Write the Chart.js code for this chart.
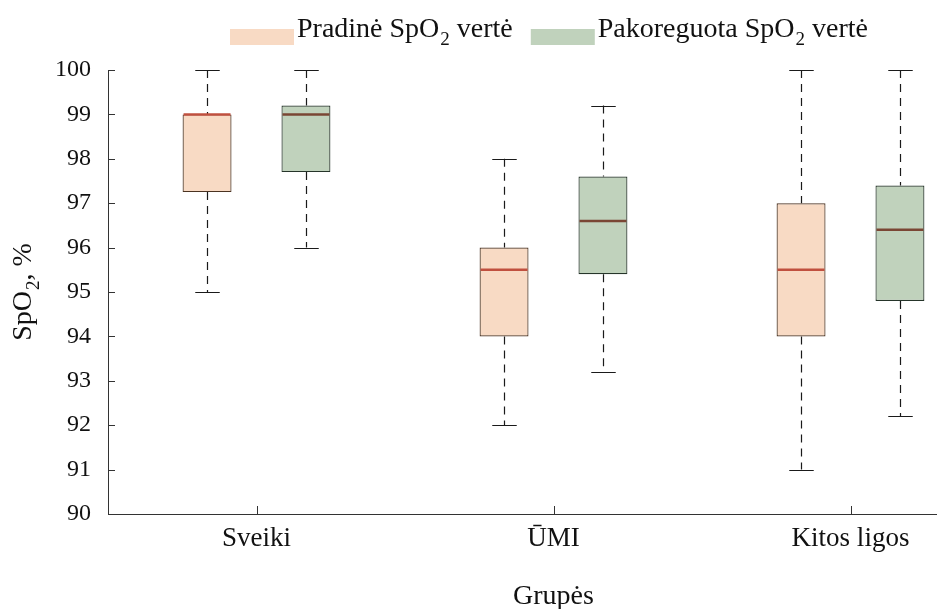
<!DOCTYPE html>
<html>
<head>
<meta charset="utf-8">
<script src="https://cdn.jsdelivr.net/npm/chart.js@4/dist/chart.umd.min.js"></script>
<style>
  html, body { margin: 0; padding: 0; background: #fff; overflow: hidden; }
  #wrap { position: relative; width: 1000px; height: 609px; }
</style>
</head>
<body>
<div id="wrap"><canvas id="c"></canvas></div>
<script>
// Groups on the x axis
const categories = ['Sveiki', 'ŪMI', 'Kitos ligos'];

// Initial SpO2 value: five-number summary per group
const baseMin = [95, 92, 91];
const baseQ1  = [97.25, 94, 94];
const baseMed = [99, 95.5, 95.5];
const baseQ3  = [99, 96, 97];
const baseMax = [100, 98, 100];

// Adjusted SpO2 value: five-number summary per group
const adjMin = [96, 93.2, 92.2];
const adjQ1  = [97.7, 95.4, 94.8];
const adjMed = [99, 96.6, 96.4];
const adjQ3  = [99.2, 97.6, 97.4];
const adjMax = [100, 99.2, 100];

// Y axis range and step
const yMin = 90;
const yMax = 100;
const yStep = 1;

const seriesNames = ['Pradinė SpO', 'Pakoreguota SpO'];

const SERIF = '"Liberation Serif", "Times New Roman", serif';

const styles = [
  { fill: '#F8DAC4', edge: '#4b3322', median: '#C0503F' },
  { fill: '#C0D2BC', edge: '#26352a', median: '#7A4634' }
];

const stats = [
  { min: baseMin, q1: baseQ1, med: baseMed, q3: baseQ3, max: baseMax },
  { min: adjMin,  q1: adjQ1,  med: adjMed,  q3: adjQ3,  max: adjMax }
];

// Whiskers, caps and medians drawn around the floating bars
const boxPlotPlugin = {
  id: 'boxPlot',
  beforeDatasetsDraw(chart) {
    const ctx = chart.ctx;
    const y = chart.scales.y;
    stats.forEach((s, d) => {
      const meta = chart.getDatasetMeta(d);
      meta.data.forEach((bar, i) => {
        const x = Math.round(bar.x) + 0.5;
        const capHalf = bar.width / 4;
        const pMax = y.getPixelForValue(s.max[i]);
        const pMin = y.getPixelForValue(s.min[i]);
        const pQ1 = y.getPixelForValue(s.q1[i]);
        const pQ3 = y.getPixelForValue(s.q3[i]);
        ctx.save();
        ctx.strokeStyle = '#1a1a1a';
        ctx.lineWidth = 1.2;
        ctx.setLineDash([8, 6]);
        ctx.beginPath();
        ctx.moveTo(x, pMax); ctx.lineTo(x, pQ3);
        ctx.moveTo(x, pQ1); ctx.lineTo(x, pMin);
        ctx.stroke();
        ctx.setLineDash([]);
        ctx.beginPath();
        ctx.moveTo(x - capHalf, Math.round(pMax) + 0.5); ctx.lineTo(x + capHalf, Math.round(pMax) + 0.5);
        ctx.moveTo(x - capHalf, Math.round(pMin) + 0.5); ctx.lineTo(x + capHalf, Math.round(pMin) + 0.5);
        ctx.stroke();
        ctx.restore();
      });
    });
  },
  afterDatasetsDraw(chart) {
    const ctx = chart.ctx;
    const y = chart.scales.y;
    stats.forEach((s, d) => {
      const meta = chart.getDatasetMeta(d);
      meta.data.forEach((bar, i) => {
        const pMed = y.getPixelForValue(s.med[i]);
        ctx.save();
        ctx.strokeStyle = styles[d].median;
        ctx.lineWidth = 2.5;
        ctx.beginPath();
        ctx.moveTo(bar.x - bar.width / 2 + 1, pMed);
        ctx.lineTo(bar.x + bar.width / 2 - 1, pMed);
        ctx.stroke();
        ctx.restore();
      });
    });
  }
};

// Text with a subscript part, drawn left to right
function drawSubText(ctx, parts, x, yBase, size) {
  let cx = x;
  parts.forEach(p => {
    if (p.sub) {
      ctx.font = Math.round(size * 0.68) + 'px ' + SERIF;
      ctx.fillText(p.t, cx + 1, yBase + size * 0.3);
      cx += ctx.measureText(p.t).width + 1;
    } else {
      ctx.font = size + 'px ' + SERIF;
      ctx.fillText(p.t, cx, yBase);
      cx += ctx.measureText(p.t).width;
    }
  });
  return cx;
}

// Inward tick marks, legend and axis titles
const decorPlugin = {
  id: 'decor',
  afterDraw(chart) {
    const ctx = chart.ctx;
    const area = chart.chartArea;
    const xs = chart.scales.x;
    const ys = chart.scales.y;
    ctx.save();
    ctx.strokeStyle = '#333';
    ctx.lineWidth = 1;
    ctx.beginPath();
    ys.ticks.forEach(t => {
      const py = Math.round(ys.getPixelForValue(t.value)) + 0.5;
      ctx.moveTo(area.left, py); ctx.lineTo(area.left + 7, py);
    });
    categories.forEach((c, i) => {
      const px = Math.round(xs.getPixelForValue(i)) + 0.5;
      ctx.moveTo(px, area.bottom); ctx.lineTo(px, area.bottom - 8);
    });
    ctx.stroke();

    // legend
    ctx.textBaseline = 'alphabetic';
    ctx.textAlign = 'left';
    let lx = 230;
    const legY = 29;
    seriesNames.forEach((name, d) => {
      ctx.fillStyle = styles[d].fill;
      ctx.fillRect(lx, legY, 64, 16);
      ctx.fillStyle = '#111';
      const end = drawSubText(ctx, [{ t: name }, { t: '2', sub: true }, { t: ' vertė' }], lx + 67, 37, 28);
      lx = end + 18;
    });

    // x axis title
    ctx.fillStyle = '#111';
    ctx.font = '28px ' + SERIF;
    ctx.textAlign = 'center';
    ctx.fillText('Grupės', (area.left + area.right) / 2, 604);

    // y axis title
    ctx.translate(31, 292);
    ctx.rotate(-Math.PI / 2);
    ctx.textAlign = 'left';
    const parts = [{ t: 'SpO' }, { t: '2', sub: true }, { t: ', %' }];
    let w = 0;
    parts.forEach(p => {
      ctx.font = (p.sub ? Math.round(28 * 0.68) : 28) + 'px ' + SERIF;
      w += ctx.measureText(p.t).width + (p.sub ? 1 : 0);
    });
    drawSubText(ctx, parts, -w / 2, 0, 28);
    ctx.restore();
  }
};

new Chart(document.getElementById('c'), {
  type: 'bar',
  data: {
    labels: categories,
    datasets: stats.map((s, d) => ({
      label: seriesNames[d] + '2 vertė',
      data: categories.map((_, i) => [s.q1[i], s.q3[i]]),
      backgroundColor: styles[d].fill,
      borderColor: styles[d].edge,
      borderWidth: 1.2,
      borderSkipped: false,
      categoryPercentage: 0.666,
      barPercentage: 0.495
    }))
  },
  options: {
    responsive: true,
    maintainAspectRatio: false,
    animation: false,
    events: [],
    layout: { padding: { top: 70, right: 1, left: 0, bottom: 0 } },
    plugins: { legend: { display: false }, tooltip: { enabled: false } },
    scales: {
      x: {
        grid: { display: true, drawOnChartArea: false, drawTicks: false },
        border: { display: true, color: '#333', width: 1 },
        ticks: { color: '#111', font: { family: SERIF, size: 27 }, padding: 9, maxRotation: 0 },
        afterFit(scale) { scale.height = 95; }
      },
      y: {
        min: yMin,
        max: yMax,
        grid: { display: true, drawOnChartArea: false, drawTicks: false },
        border: { display: true, color: '#333', width: 1 },
        ticks: { stepSize: yStep, color: '#111', font: { family: SERIF, size: 24 }, padding: 17 },
        afterFit(scale) { scale.width = 108; }
      }
    }
  },
  plugins: [boxPlotPlugin, decorPlugin]
});
</script>
</body>
</html>
